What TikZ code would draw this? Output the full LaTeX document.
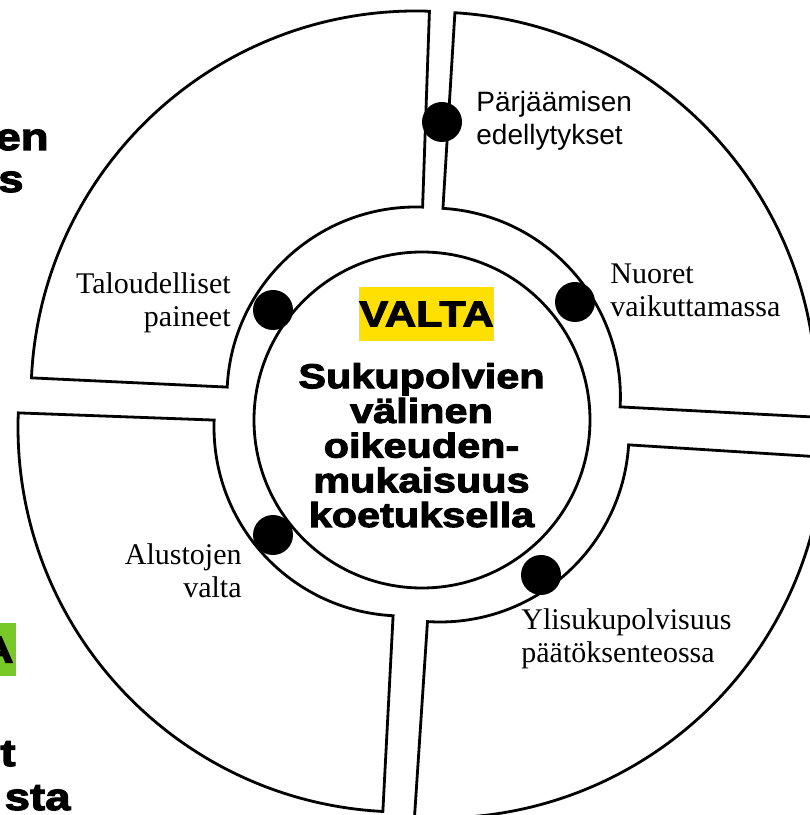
\documentclass[tikz,border=0pt]{standalone}
\usepackage{fontspec}
\setmainfont{Liberation Serif}
\newfontfamily\labelsans{Liberation Sans}
\newfontfamily\heavyfont{Liberation Sans Bold}[FakeStretch=1.2,FakeBold=3]
\definecolor{valtayellow}{RGB}{255,224,0}
\definecolor{valtagreen}{RGB}{120,200,40}

\begin{document}
\begin{tikzpicture}[x=1pt,y=1pt,line width=2.8pt,
	dot/.style={circle,fill=black,minimum size=40pt,inner sep=0pt},
	seriflabel/.style={inner sep=0pt,font=\fontsize{30}{33.5}\selectfont},
	heavy/.style={inner sep=0pt,font=\heavyfont\fontsize{38}{42}\selectfont}]
			\clip (0,0) rectangle (810,815);
			% four ring segments
			\foreach \cx/\cy/\from/\to in {416/419/88/177.3, 431.4/418/-3/86.5, 440/382/-93.8/-3.6, 403/388/177.9/267}
			\draw (\cx,\cy) ++(\from:385) arc[start angle=\from,end angle=\to,radius=385]
				-- ++(\to:-196) arc[start angle=\to,end angle=\from,radius=189] -- cycle;
			\node [draw,circle,minimum size=336pt,inner sep=0pt] (core) at (422,395) {};
			% centre
			\node [fill=valtayellow,minimum width=133pt,minimum height=54pt,inner sep=0pt,
				font=\heavyfont\fontsize{36}{38}\selectfont] (valta) at (426.5,501) {VALTA};
			\node [inner sep=0pt,align=center,anchor=base,font=\heavyfont\fontsize{34.5}{34.7}\selectfont] (theme) at (421.5,288)
				{Sukupolvien\\välinen\\oikeuden-\\mukaisuus\\koetuksella};
			% dots and labels
			\node [dot] (pdot) at (442,693) {};
			\node [dot] (ndot) at (575,513) {};
			\node [dot] (tdot) at (273,505) {};
			\node [dot] (adot) at (273,280) {};
			\node [dot] (ydot) at (541,240) {};
			\node [inner sep=0pt,align=left,anchor=base west,font=\labelsans\fontsize{28}{33}\selectfont] (plabel) at (475,670)
				{Pärjäämisen\\edellytykset};
			\node [seriflabel,align=left,anchor=base west] (nlabel) at (609,498) {Nuoret\\vaikuttamassa};
			\node [seriflabel,align=right,anchor=base east] (tlabel) at (232,488) {Taloudelliset\\paineet};
			\node [seriflabel,align=right,anchor=base east] (alabel) at (243,217) {Alustojen\\valta};
			\node [seriflabel,align=left,anchor=base west] (ylabel) at (520,152) {Ylisukupolvisuus\\päätöksenteossa};
			% cut-off text at the left edge
			\node [heavy,anchor=base east] (edge1) at (50,665) {en};
			\node [heavy,anchor=base east] (edge2) at (25,623) {s};
			\node [heavy,anchor=east,fill=valtagreen,minimum height=53pt,inner xsep=2pt] (edge3) at (17,165.5) {A};
			\node [heavy,anchor=base east] (edge4) at (17,49) {t};
			\node [heavy,anchor=base east] (edge5) at (72,5) {sta};
			\end{tikzpicture}
\end{document}
